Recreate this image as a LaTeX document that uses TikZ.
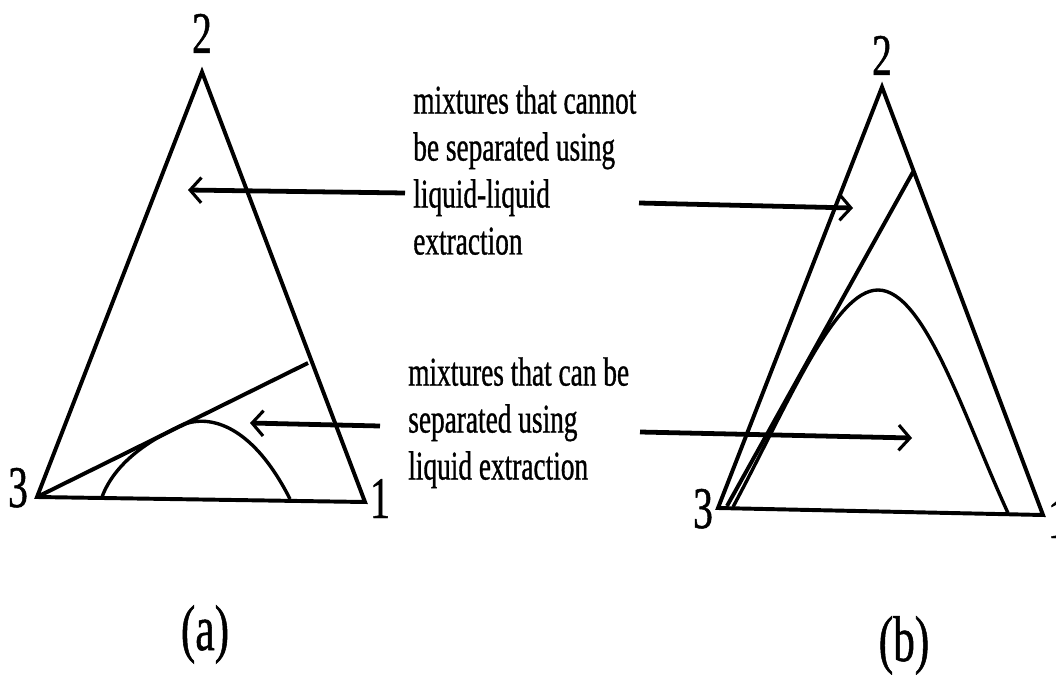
\documentclass[tikz,border=0pt]{standalone}
\usepackage{fontspec}
\setmainfont{Liberation Serif}[FakeStretch=0.67,FakeBold=0.8]
\usetikzlibrary{arrows.meta,positioning}

\begin{document}
\begin{tikzpicture}[
  x=0.025cm, y=-0.025cm,
  side/.style={line width=2.8pt, line join=miter},
  curve/.style={line width=2.4pt},
  pointer/.style={-{Straight Barb[length=8pt,width=18pt,line width=2.2pt]}, line width=3.4pt},
  corner/.style={anchor=base, inner sep=0pt, font=\fontsize{42}{42}\selectfont},
  caption/.style={anchor=base, inner sep=0pt, font=\fontsize{46}{46}\selectfont},
  note/.style={anchor=north west, inner sep=0pt, align=left, font=\fontsize{29}{33.4}\selectfont}]
\useasboundingbox (0,0) rectangle (1056,675);

% (a)
\coordinate (a2) at (202,72);
\coordinate (a3) at (37,497);
\coordinate (a1) at (365,502);
\coordinate (atie) at (308,363);
\draw[side] (a2) -- (a1) -- (a3) -- cycle;
\draw[side] (a3) -- (atie);
\draw[curve] (102,497) .. controls (115,462) and (150,440) .. (180,426)
  .. controls (205,414) and (250,420) .. (290,499);
\node[corner] (lblA2) at (202,53) {2};
\node[corner] (lblA3) at (18,507) {3};
\node[corner] (lblA1) at (380,518) {1};
\node[caption] (capA) at (205,650) {(a)};

% (b)
\coordinate (b2) at (882,87);
\coordinate (b3) at (718,508);
\coordinate (b1) at (1043,515);
\coordinate (btop) at (913,172);
\coordinate (bfoot) at (727,506);
\draw[side] (b2) -- (b1) -- (b3) -- cycle;
\draw[side] (btop) -- (bfoot);
\draw[curve] (733,507) .. controls (790,400) and (835,290) .. (878,290)
  .. controls (925,290) and (965,420) .. (1008,513);
\node[corner] (lblB2) at (882,75) {2};
\node[corner] (lblB3) at (703,528) {3};
\node[corner] (lblB1) at (1058,538) {1};
\node[caption] (capB) at (904,661) {(b)};

% notes and pointers
\node[note] (cannot) at (413,85) {mixtures that cannot\\be separated using\\liquid-liquid\\extraction};
\node[note] (can) at (408,357) {mixtures that can be\\separated using\\liquid extraction};
\coordinate (upL) at (405,193);
\coordinate (upLtip) at (188,190);
\coordinate (upR) at (639,203);
\coordinate (upRtip) at (853,208);
\coordinate (loL) at (380,426);
\coordinate (loLtip) at (250,423);
\coordinate (loR) at (640,432);
\coordinate (loRtip) at (912,438);
\draw[pointer] (upL) -- (upLtip);
\draw[pointer] (upR) -- (upRtip);
\draw[pointer] (loL) -- (loLtip);
\draw[pointer] (loR) -- (loRtip);
\end{tikzpicture}
\end{document}
